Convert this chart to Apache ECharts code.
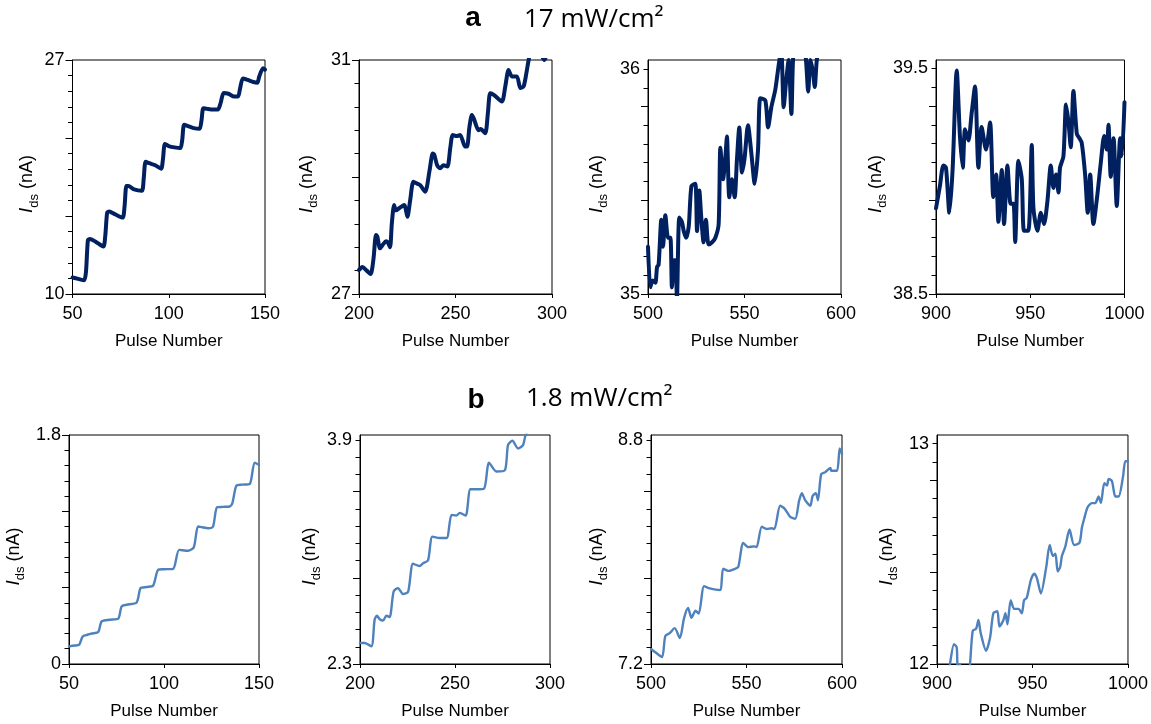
<!DOCTYPE html>
<html><head><meta charset="utf-8">
<script src="https://cdn.jsdelivr.net/npm/echarts@6.0.0/dist/echarts.min.js"></script>
<style>html,body{margin:0;padding:0;background:#fff}#c{width:1151px;height:724px}</style>
</head><body><div id="c"></div>
<script>
// ---------- DATA (pulse number, I_ds in nA) ----------
const a1 = [[50,11.2],[53,11.1],[56,11.0],[57,11.6],[58,13.9],[59,14.0],[62,13.8],[66,13.45],[67,14.2],[68,15.9],[69,16.0],[72,15.8],[76,15.55],[77,16.3],[78,17.85],[79,17.85],[82,17.6],[86,17.5],[87,18.4],[88,19.6],[90,19.5],[93,19.35],[96,19.1],[97,19.8],[98,20.9],[100,20.75],[103,20.65],[106,20.6],[107,21.2],[108,22.3],[110,22.2],[113,22.05],[116,22.0],[117,22.6],[118,23.5],[120,23.45],[123,23.4],[125.5,23.4],[127,23.9],[128.5,24.6],[131,24.55],[134,24.35],[136,24.35],[137,24.9],[138.5,25.65],[141,25.55],[144,25.4],[146,25.35],[147,25.8],[149,26.4],[150,26.3]];
const a2 = [[200,27.41],[201.7,27.46],[204,27.4],[206,27.34],[207.5,27.6],[208.8,28.01],[209.5,27.98],[210.9,27.78],[212.5,27.85],[214,27.9],[215,27.88],[216.1,27.8],[217,28.2],[218.2,28.52],[219.2,28.43],[221,28.47],[223.5,28.52],[224.5,28.4],[225.1,28.32],[226.5,28.6],[228.2,28.92],[230,28.89],[231.7,28.86],[234.3,28.75],[236.5,29.1],[238.2,29.4],[239,29.38],[240.5,29.2],[242,29.15],[243.8,29.2],[245.8,29.18],[247.3,29.5],[248.6,29.72],[250.7,29.7],[252.4,29.72],[255,29.52],[256,29.52],[257.2,29.85],[258.5,30.06],[259.5,30.0],[261.9,29.8],[263,29.82],[265.4,29.75],[266.8,30.1],[268,30.43],[270,30.4],[274,30.29],[275.8,30.55],[277.5,30.83],[279.2,30.72],[281.8,30.72],[283.6,30.52],[285.3,30.55],[286.7,30.77],[287.9,31.0],[290,31.3],[293,31.2],[296,31.0],[298,31.15],[300,31.3]];
const a3 = [[500,35.21],[501.2,35.03],[502.4,35.06],[503.8,35.05],[504.7,35.12],[505.5,35.13],[506.9,35.33],[507.8,35.21],[509,35.35],[510.4,35.25],[511.6,35.25],[512.4,35.03],[513.5,35.15],[514.2,35.15],[515,34.98],[516.2,35.34],[517.6,35.32],[518.5,35.28],[519.7,35.25],[521.1,35.3],[522.5,35.48],[524.5,35.49],[525.4,35.28],[526.6,35.46],[527.6,35.34],[528.8,35.23],[530,35.33],[531.4,35.22],[533.2,35.23],[534.9,35.25],[536.6,35.31],[537.5,35.65],[538.9,35.51],[540.1,35.61],[540.9,35.7],[542.1,35.43],[543.5,35.51],[544.9,35.43],[546.1,35.6],[547.3,35.74],[548.7,35.54],[550,35.6],[551.8,35.75],[553.5,35.63],[555.3,35.49],[557,35.64],[558.2,35.87],[560.8,35.86],[562.2,35.74],[563.9,35.83],[566,35.91],[568.1,36.04],[569.1,36.07],[570.3,35.83],[571.5,35.94],[572.9,36.04],[574.3,35.8],[575.5,36.07],[577.2,36.06],[579.8,36.08],[581.5,36.07],[583,35.9],[584.2,36.04],[585.4,35.99],[586.4,35.92],[587.6,36.05],[590,36.12],[595,36.15],[600,36.2]];
const a4 = [[900,38.88],[902.1,38.98],[903.9,39.07],[905.3,39.06],[907.1,38.86],[908.8,39.05],[911,39.49],[912.7,39.2],[914.2,39.06],[915.4,39.23],[917.2,39.18],[918.9,39.3],[920.7,39.42],[922.5,39.06],[924.2,39.24],[926.5,39.14],[928.7,39.26],[930.4,38.93],[931.9,39.03],[933.1,38.82],[934.9,39.05],[936.1,38.81],[937.9,39.07],[939.6,38.9],[941.1,38.9],[942,38.73],[943.7,39.09],[945.5,39.01],[946.7,38.78],[949,38.78],[950.8,39.16],[951.7,38.88],[953.8,38.78],[955.6,38.86],[957.3,38.81],[959.1,38.91],[960.9,39.07],[962.3,38.97],[963.7,39.03],[965,38.95],[965.8,39.06],[967.6,39.11],[969,39.34],[970.3,39.26],[971.5,39.15],[972.9,39.4],[974.7,39.21],[976.1,39.19],[977.3,39.17],[979.1,39.03],[980.5,38.86],[981.8,39.03],[983.5,38.81],[985.6,38.94],[987.4,39.08],[989.2,39.2],[990.6,39.14],[991.5,39.25],[992.7,39.02],[994.2,39.19],[995.9,38.89],[997.7,39.19],[998.6,39.11],[1000,39.35]];
const b1 = [[50,0.139],[53,0.145],[55.4,0.152],[57.2,0.217],[59.6,0.23],[62,0.24],[65.4,0.251],[67.2,0.335],[71.5,0.348],[75.9,0.356],[77.7,0.453],[80.3,0.466],[85.6,0.484],[87.7,0.597],[91,0.605],[94.3,0.617],[96.9,0.74],[100,0.745],[104.8,0.748],[108,0.897],[112.7,0.89],[115.7,0.918],[117.9,1.081],[120,1.075],[123.2,1.067],[125.8,1.08],[127.9,1.232],[131,1.235],[134.6,1.238],[136,1.265],[138.1,1.402],[141,1.41],[145.1,1.415],[147.7,1.583],[150,1.565]];
const b2 = [[200,2.45],[202.5,2.45],[206,2.426],[207.7,2.616],[208.9,2.645],[210.4,2.62],[212.1,2.61],[213.9,2.645],[215.6,2.635],[217.7,2.818],[220,2.842],[222.6,2.8],[225.3,2.815],[227.9,3.016],[231.4,3.0],[233.2,3.02],[235.8,3.04],[238.1,3.21],[242,3.2],[245.6,3.2],[248.2,3.365],[250.7,3.36],[252.5,3.38],[255.6,3.36],[258.1,3.548],[261.2,3.548],[265.3,3.553],[267.9,3.738],[271.8,3.675],[276.3,3.686],[277.9,3.864],[280.2,3.895],[283.2,3.84],[285.8,3.864],[287.2,3.936],[290,3.98],[295,4.0],[300,4.02]];
const b3 = [[500,7.307],[502.8,7.278],[505.8,7.25],[507.5,7.4],[509.8,7.42],[512.4,7.456],[515.1,7.385],[517.3,7.527],[519.4,7.6],[521.2,7.53],[523.3,7.58],[525,7.56],[527.8,7.756],[530.8,7.74],[536.1,7.728],[537.8,7.88],[540.5,7.865],[544,7.88],[545.7,7.893],[548.3,8.064],[550.9,8.035],[554.1,8.04],[555.3,8.035],[558,8.18],[560.6,8.164],[563.2,8.17],[564.6,8.164],[567.6,8.33],[569.9,8.31],[572.9,8.25],[575.5,8.237],[577.6,8.37],[579,8.42],[580.7,8.37],[583.4,8.33],[584.6,8.4],[586.3,8.42],[587.4,8.37],[589.1,8.556],[591.2,8.57],[593.9,8.6],[594.4,8.58],[597.4,8.58],[598.8,8.74],[600,8.7]];
const b4 = [[900,11.8],[904,11.85],[906.8,12.0],[908.9,12.09],[910.3,12.076],[910.7,12.0],[911.5,11.97],[912.1,12.0],[912.9,11.95],[915.6,11.88],[917.3,12.0],[918.7,12.15],[920.5,12.16],[921.7,12.2],[922.9,12.14],[925.7,12.06],[927.8,12.12],[929.5,12.23],[931.6,12.24],[932.7,12.17],[934.8,12.2],[935.8,12.23],[936.9,12.18],[938.6,12.29],[940.4,12.25],[942.7,12.25],[944.4,12.23],[945.6,12.29],[947,12.3],[949.1,12.38],[950.9,12.41],[952.3,12.39],[954.4,12.32],[957.2,12.44],[959,12.54],[960.7,12.49],[962,12.5],[963.2,12.42],[964.5,12.44],[965.4,12.49],[967.1,12.53],[969.4,12.61],[971.8,12.54],[974.6,12.55],[975.9,12.62],[977.1,12.66],[978.8,12.71],[981.1,12.73],[982.9,12.73],[984.6,12.76],[985.8,12.73],[987.6,12.82],[989,12.81],[989.9,12.84],[991.6,12.83],[993.4,12.76],[995.1,12.76],[997.4,12.85],[998.6,12.92],[1000,12.92]];

// ---------- AXES ----------
const xRanges = [[50,150],[200,300],[500,600],[900,1000]];
const yLabelsA = [[10,27],[27,31],[35,36],[38.5,39.5]];      // labelled y values, row a
const yLabelsB = [[0,1.8],[2.3,3.9],[7.2,8.8],[12,13]];      // labelled y values, row b
const yMinorCountA = [15,10,12,12];   // minor tick intervals between the labels
const yMinorCountB = [15,13,13,12];
const yAxisTopA = [27,31,36.04,39.537]; // axis max (plot box top)
const yAxisTopB = [1.8,3.936,8.8355,13.039];
const rowTitles = ['a','b'];
const rowIntensity = ['17 mW/cm²','1.8 mW/cm²'];
const xName = 'Pulse Number';

// ---------- LAYOUT / STYLE ----------
const rows = [
  {top:60, height:234, color:'#002060', width:4,
   grids:[[72.5,192.5],[359,193],[648,193],[936,188.5]], nameGaps:[36,43,42,39],
   data:[a1,a2,a3,a4], labels:yLabelsA, counts:yMinorCountA, tops:yAxisTopA},
  {top:435, height:229, color:'#4F81BD', width:2.4,
   grids:[[69,190],[360,190],[651,191],[937,191]], nameGaps:[46,41,45,41],
   data:[b1,b2,b3,b4], labels:yLabelsB, counts:yMinorCountB, tops:yAxisTopB}
];
const FONT = 'Liberation Sans';
const grid=[], xAxis=[], yAxis=[], series=[];
rows.forEach((row, r) => {
  row.grids.forEach((g, c) => {
    const idx = r*4 + c;
    const lo = row.labels[c][0], hi = row.labels[c][1], n = row.counts[c];
    const step = (hi - lo) / n;
    const majors = [], minors = [];
    for (let k = 0; k <= n; k++) { (k % 5 === 0 ? majors : minors).push(lo + k*step); }
    grid.push({left:g[0], width:g[1], top:row.top, height:row.height, show:true,
      borderColor:'#000', borderWidth:1, backgroundColor:'transparent'});
    xAxis.push({type:'value', gridIndex:idx, min:xRanges[c][0], max:xRanges[c][1], interval:50,
      axisLine:{show:true, onZero:false, lineStyle:{color:'#000', width:1}},
      axisTick:{show:true, length:4, lineStyle:{color:'#000'}},
      axisLabel:{fontSize:18, color:'#000', margin:11, fontFamily:FONT, formatter: v => String(v)},
      splitLine:{show:false},
      name:xName, nameLocation:'middle', nameGap:39,
      nameTextStyle:{fontSize:17, color:'#000', fontFamily:FONT}});
    yAxis.push({type:'value', gridIndex:idx, position:'left', min:lo, max:row.tops[c],
      axisLine:{show:true, onZero:false, lineStyle:{color:'#000', width:1}},
      axisTick:{show:true, customValues:majors, length:7, lineStyle:{color:'#000'}},
      axisLabel:{customValues:[lo, hi], fontSize:18, color:'#000', margin:8, fontFamily:FONT,
        formatter: v => String(+(+v).toFixed(2))},
      splitLine:{show:false},
      name:'{i|I}{s|ds}{n| (nA)}', nameLocation:'middle', nameRotate:90, nameGap:row.nameGaps[c],
      nameTextStyle:{color:'#000', fontFamily:FONT, fontSize:18, padding:[0,14,0,0],
        rich:{i:{fontSize:19, fontStyle:'italic', fontFamily:FONT, color:'#000', verticalAlign:'bottom'},
              s:{fontSize:13, fontFamily:FONT, color:'#000', verticalAlign:'bottom', padding:[0,0,-4,0]},
              n:{fontSize:18, fontFamily:FONT, color:'#000', verticalAlign:'bottom'}}}});
    yAxis.push({type:'value', gridIndex:idx, position:'left', min:lo, max:row.tops[c],
      axisLine:{show:false}, axisLabel:{show:false}, splitLine:{show:false},
      axisTick:{show:true, customValues:minors, length:4.5, lineStyle:{color:'#000'}}});
    series.push({type:'line', xAxisIndex:idx, yAxisIndex:idx*2, data:row.data[c],
      symbol:'none', smooth:0.25, clip:true,
      lineStyle:{color:row.color, width:row.width, cap:'round', join:'round'}});
  });
});

const graphic = [
  {type:'text', style:{text:rowTitles[0], x:473, y:18, textAlign:'center', textVerticalAlign:'middle', font:'bold 28px "Liberation Sans"', fill:'#000'}},
  {type:'text', style:{text:rowIntensity[0], x:524, y:20, textAlign:'left', textVerticalAlign:'middle', font:'26px "Open Sans"', fill:'#000'}},
  {type:'text', style:{text:rowTitles[1], x:476, y:400, textAlign:'center', textVerticalAlign:'middle', font:'bold 28px "Liberation Sans"', fill:'#000'}},
  {type:'text', style:{text:rowIntensity[1], x:526, y:399, textAlign:'left', textVerticalAlign:'middle', font:'26px "Open Sans"', fill:'#000'}}
];

const chart = echarts.init(document.getElementById('c'), null, {renderer:'canvas'});
chart.setOption({animation:false, backgroundColor:'#fff', grid, xAxis, yAxis, series, graphic});
</script></body></html>
